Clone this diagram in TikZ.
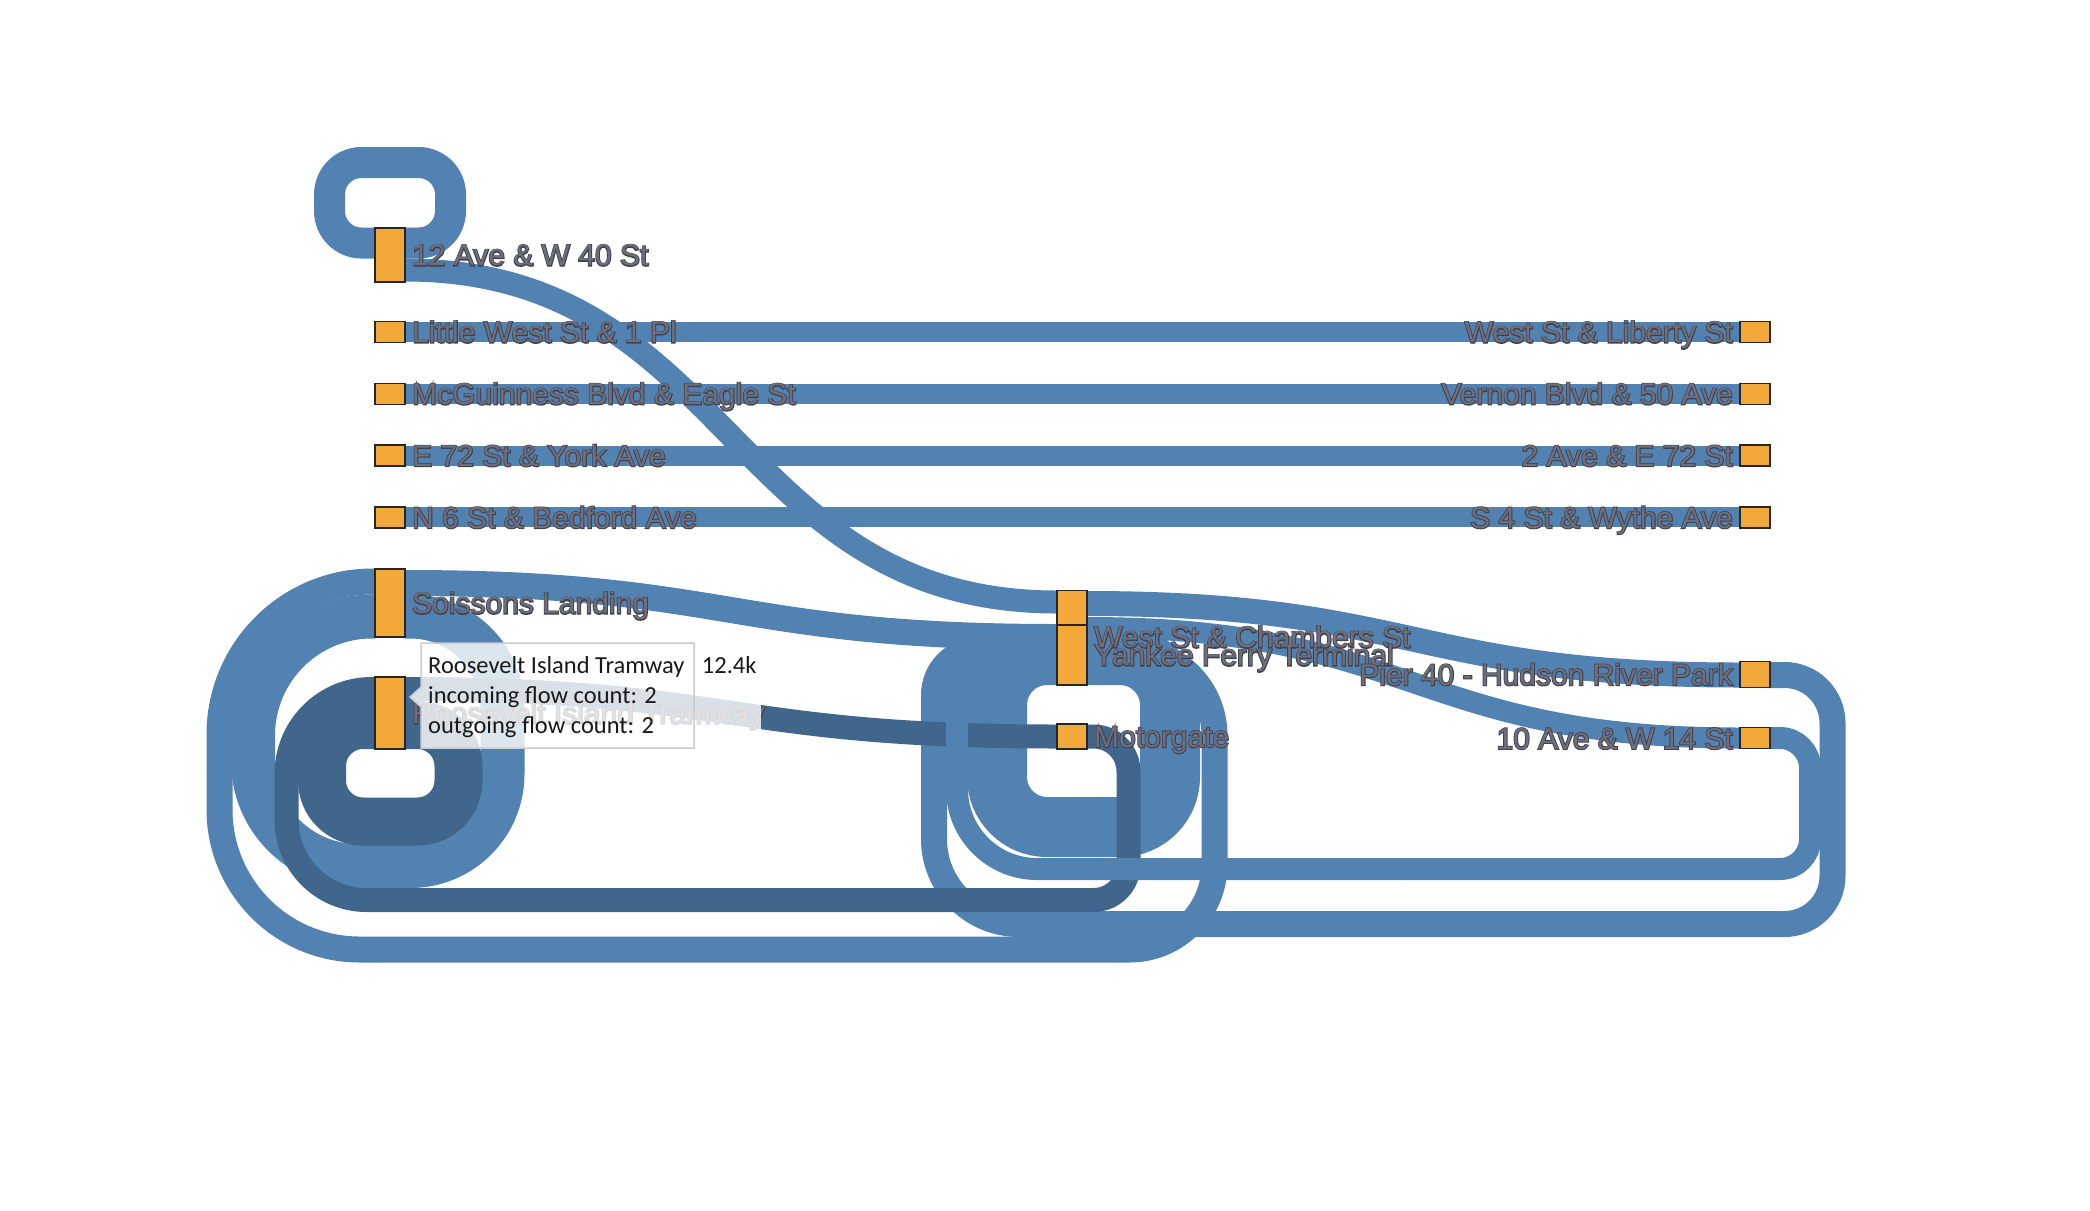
\documentclass[tikz,border=0pt]{standalone}
\usepackage{fontspec}
\setmainfont{Liberation Sans}
\newfontfamily\lblfont{Liberation Sans}
\newfontfamily\lblhalofont[FakeBold=6]{Liberation Sans}
\newfontfamily\tipfont{Carlito}
\definecolor{linkL}{RGB}{81,130,177}
\definecolor{linkD}{RGB}{65,102,139}
\definecolor{nodeF}{RGB}{243,168,58}
\definecolor{lblhalo}{RGB}{66,66,76}
\definecolor{lbltext}{RGB}{110,110,126}
\newcommand{\mklabel}[5]{%
  \node[lblh,anchor=#2] (#1h) at (#3,#4) {#5};
  \node[lblt,anchor=#2] (#1) at (#3,#4) {#5};}
\begin{document}
\begin{tikzpicture}[x=1pt,y=-1pt,
  lband/.style={draw=linkL,line width=#1},
  dband/.style={draw=linkD,line width=#1},
  nd/.style={inner sep=0pt,outer sep=0pt,minimum width=30pt,minimum height=#1},
  nodebox/.style={draw=black!85,line width=1.3pt,fill=nodeF},
  lblh/.style={inner sep=0pt,text=lblhalo,font=\lblhalofont\fontsize{30}{30}\selectfont},
  lblt/.style={inner sep=0pt,text=lbltext,font=\lblfont\fontsize{30}{30}\selectfont},
  tipbox/.style={fill=white,fill opacity=0.8,draw=black!20,line width=1.5pt},
  tiptext/.style={inner sep=0pt,text=black!90,font=\tipfont\fontsize{24.5}{24.5}\selectfont}]
\useasboundingbox[fill=white] (0,0) rectangle (2090,1210);

% ---------- node positions ----------
\path
  (390,255)   node[nd=54pt] (a12) {}
  (390,332)   node[nd=21pt] (lw) {}
  (390,393.8) node[nd=21pt] (mg) {}
  (390,455.6) node[nd=21pt] (e72) {}
  (390,517.4) node[nd=21pt] (n6) {}
  (390,603)   node[nd=68pt] (soi) {}
  (390,713)   node[nd=72pt] (rit) {}
  (1755,332)   node[nd=21pt] (wl) {}
  (1755,393.8) node[nd=21pt] (vb) {}
  (1755,455.6) node[nd=21pt] (a2) {}
  (1755,517.4) node[nd=21pt] (s4) {}
  (1755,674.5) node[nd=26pt] (p40) {}
  (1755,738.3) node[nd=21pt] (a10) {}
  (1072,637.35) node[nd=93.3pt] (wc) {}
  (1072,655)   node[nd=60pt] (yft) {}
  (1072,736.5) node[nd=25pt] (mot) {};

% ---------- light links ----------
\draw[lband=20] (lw.east) -- (wl.west);
\draw[lband=20] (mg.east) -- (vb.west);
\draw[lband=20] (e72.east) -- (a2.west);
\draw[lband=20] (n6.east) -- (s4.west);
% 12 Ave -> West St & Chambers
\draw[lband=23] (405,270) .. controls (731,270) and (731,602) .. (1057,602);
% Soissons -> Yankee
\draw[lband=26] (405,583) .. controls (731,583) and (731,637) .. (1057,637);
% middle -> Pier 40 / 10 Ave
\draw[lband=25] (1087,603.5) .. controls (1413.5,603.5) and (1413.5,675) .. (1740,675);
\draw[lband=21] (1087,627.5) .. controls (1413.5,627.5) and (1413.5,738) .. (1740,738);
% 12 Ave self loop
\draw[lband=31,rounded corners=32pt] (405,243) -- (450.5,243) -- (450.5,162.5) -- (329.5,162.5) -- (329.5,243) -- (375,243);
% Yankee -> Soissons (outer bottom loop)
\draw[lband=26,rounded corners=85pt] (1087,650.5) -- (1214.5,650.5) -- (1214.5,949.5) -- (700,949.5);
\draw[lband=26,rounded corners=140pt] (700,949.5) -- (219.5,949.5) -- (219.5,770);
\draw[lband=26,rounded corners=153pt] (219.5,770) -- (219.5,581.5) -- (375,581.5);
% Soissons self loop
\draw[lband=44,rounded corners=92pt] (405,616.5) -- (502.5,616.5) -- (502.5,866) -- (380,866);
\draw[lband=44,rounded corners=105pt] (380,866) -- (253,866) -- (253,740);
\draw[lband=44,rounded corners=119pt] (253,740) -- (253,616.5) -- (375,616.5);
% Pier 40 return
\draw[lband=26,rounded corners=48pt] (1770,675) -- (1832.5,675) -- (1832.5,924) -- (1400,924);
\draw[lband=26,rounded corners=85pt] (1400,924) -- (934,924) -- (934,790);
\draw[lband=26,rounded corners=45pt] (934,790) -- (934,650) -- (1057,650);
% Yankee self loop
\draw[lband=60,rounded corners=50pt] (1087,655) -- (1170,655) -- (1170,827) -- (997,827) -- (997,655) -- (1057,655);

% ---------- dark (highlighted) links ----------
\draw[dband=48,rounded corners=41pt] (405,725) -- (458.5,725) -- (458.5,821.5) -- (322,821.5) -- (322,725) -- (375,725);
\draw[dband=24,rounded corners=35pt] (1087,736.5) -- (1128.5,736.5) -- (1128.5,900) -- (700,900);
\draw[dband=24,rounded corners=80pt] (700,900) -- (286.5,900) -- (286.5,800);
\draw[dband=24,rounded corners=85pt] (286.5,800) -- (286.5,689) -- (375,689);
\draw[dband=24] (405,689) .. controls (731,689) and (731,736.5) .. (1057,736.5);

% ---------- 10 Ave return (drawn over dark links) ----------
\draw[lband=22,rounded corners=30pt] (1770,738) -- (1810,738) -- (1810,869) -- (1400,869);
\draw[lband=22,rounded corners=80pt] (1400,869) -- (957,869) -- (957,760);
\draw[lband=22,rounded corners=22pt] (957,760) -- (957,673) -- (1057,673);

% ---------- node boxes ----------
\foreach \n in {a12,lw,mg,e72,n6,soi,rit,wl,vb,a2,s4,p40,a10,wc,yft,mot}
  \draw[nodebox] (\n.north west) rectangle (\n.south east);

% ---------- labels ----------
\mklabel{L1}{base west}{412}{265.7}{12 Ave \& W 40 St}
\mklabel{L2}{base west}{412}{342.7}{Little West St \& 1 Pl}
\mklabel{L3}{base west}{412}{404.5}{McGuinness Blvd \& Eagle St}
\mklabel{L4}{base west}{412}{466.3}{E 72 St \& York Ave}
\mklabel{L5}{base west}{412}{528.1}{N 6 St \& Bedford Ave}
\mklabel{L6}{base west}{412}{613.7}{Soissons Landing}
\mklabel{L7}{base west}{412}{723.7}{Roosevelt Island Tramway}
\mklabel{M1}{base west}{1094}{647.7}{West St \& Chambers St}
\mklabel{M2}{base west}{1094}{665.7}{Yankee Ferry Terminal}
\mklabel{M3}{base west}{1094}{747.2}{Motorgate}
\mklabel{R1}{base east}{1733}{342.7}{West St \& Liberty St}
\mklabel{R2}{base east}{1733}{404.5}{Vernon Blvd \& 50 Ave}
\mklabel{R3}{base east}{1733}{466.3}{2 Ave \& E 72 St}
\mklabel{R4}{base east}{1733}{528.1}{S 4 St \& Wythe Ave}
\mklabel{R5}{base east}{1733}{685.2}{Pier 40 - Hudson River Park}
\mklabel{R6}{base east}{1733}{749}{10 Ave \& W 14 St}

% ---------- hover wash + tooltip ----------
\fill[white,fill opacity=0.8] (694,692) rectangle (761,737);
\draw[tipbox] (421,643) -- (694,643) -- (694,748) -- (421,748) -- (421,707) -- (410,697) -- (421,687) -- cycle;
\node[tiptext,anchor=base west] (t1) at (428,673) {Roosevelt Island Tramway};
\node[tiptext,anchor=base west] (t2) at (428,703) {incoming flow count: 2};
\node[tiptext,anchor=base west] (t3) at (428,733) {outgoing flow count: 2};
\node[tiptext,anchor=base west] (t4) at (701.7,673) {12.4k};
\end{tikzpicture}
\end{document}
